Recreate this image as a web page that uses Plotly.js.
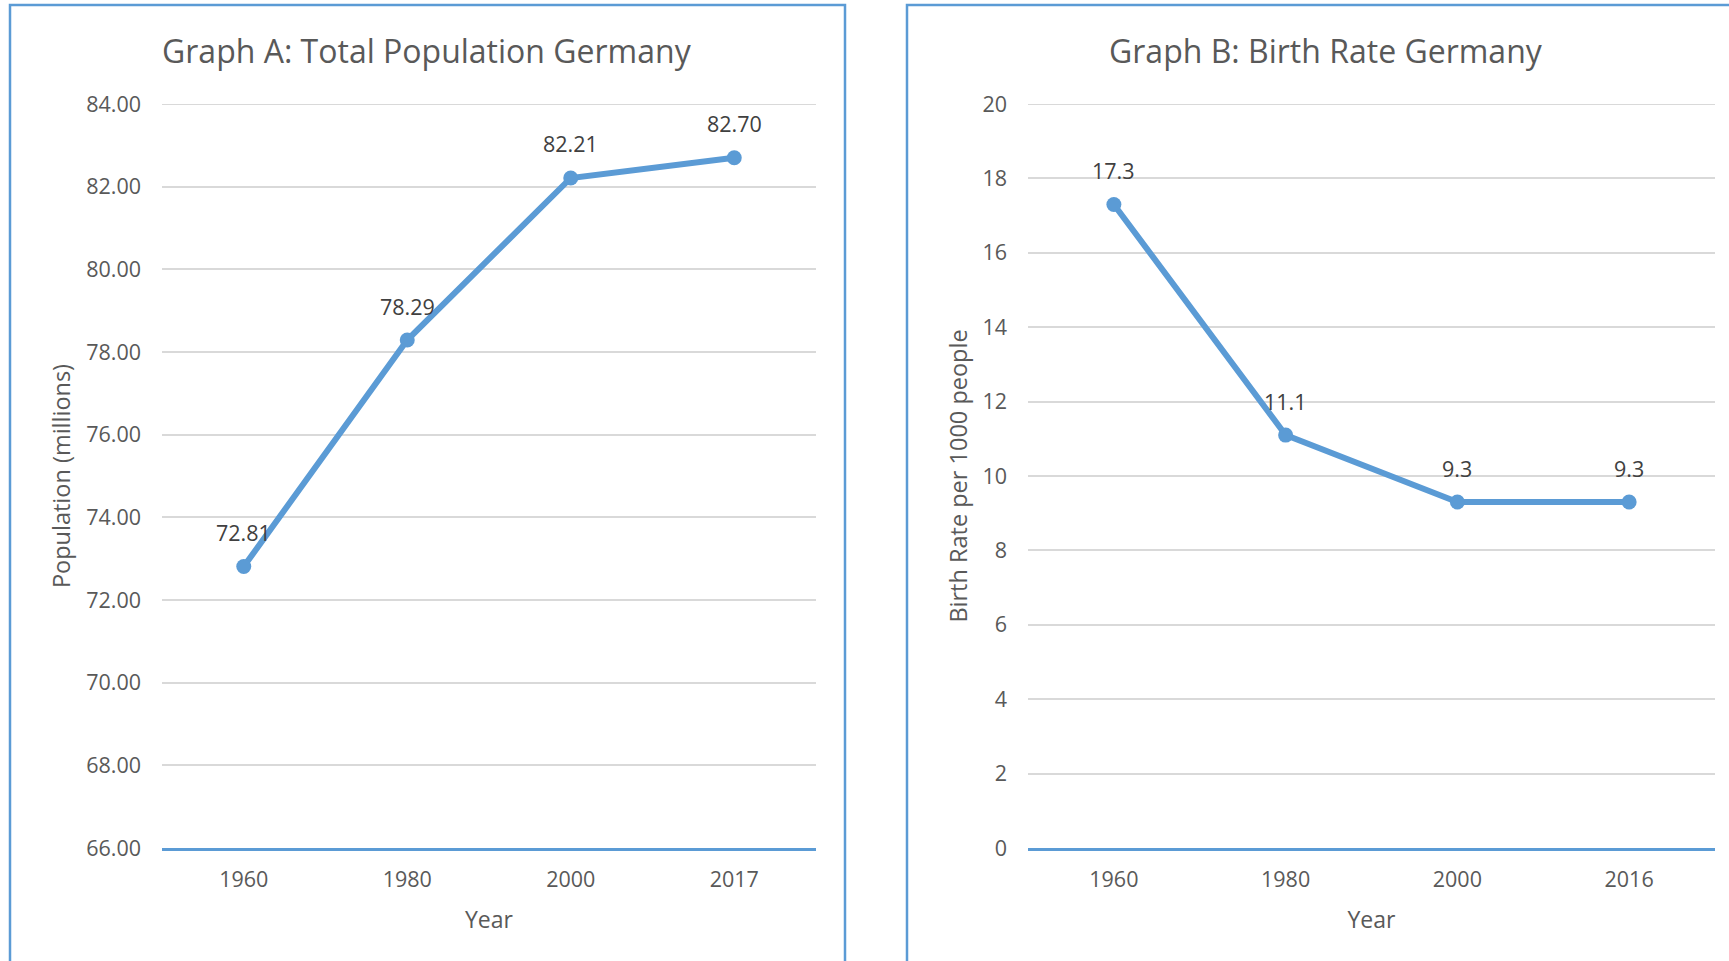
<!DOCTYPE html>
<html>
<head>
<meta charset="utf-8">
<script src="https://cdn.plot.ly/plotly-3.0.1.min.js"></script>
<style>html,body{margin:0;padding:0;background:#fff;}#chart{width:1729px;height:961px;}</style>
</head>
<body>
<div id="chart"></div>
<script>
// Graph A data
var yearsA = ["1960", "1980", "2000", "2017"];
var populationA = [72.81, 78.29, 82.21, 82.70];
var labelsA = ["72.81", "78.29", "82.21", "82.70"];
var yTicksA = [66, 68, 70, 72, 74, 76, 78, 80, 82, 84];
var yTickTextA = ["66.00", "68.00", "70.00", "72.00", "74.00", "76.00", "78.00", "80.00", "82.00", "84.00"];

// Graph B data
var yearsB = ["1960", "1980", "2000", "2016"];
var birthRateB = [17.3, 11.1, 9.3, 9.3];
var labelsB = ["17.3", "11.1", "9.3", "9.3"];
var yTicksB = [0, 2, 4, 6, 8, 10, 12, 14, 16, 18, 20];

var titleA = "Graph A: Total Population Germany";
var titleB = "Graph B: Birth Rate Germany";
var yTitleA = "Population (millions)";
var yTitleB = "Birth Rate per 1000 people";
var xTitle = "Year";

var FONT = "Open Sans, Noto Sans, sans-serif";
var BLUE = "#5B9BD5";
var TXT = "#595959";
var GRID = "#D9D9D9";

var W = 1729, H = 961;
function px(x) { return x / W; }
function py(y) { return 1 - y / H; }

var traceA = {
  x: yearsA, y: populationA, type: "scatter", mode: "lines+markers",
  xaxis: "x", yaxis: "y",
  line: {color: BLUE, width: 6},
  marker: {color: BLUE, size: 15},
  hoverinfo: "skip", showlegend: false
};
var traceB = {
  x: yearsB, y: birthRateB, type: "scatter", mode: "lines+markers",
  xaxis: "x2", yaxis: "y2",
  line: {color: BLUE, width: 6},
  marker: {color: BLUE, size: 15},
  hoverinfo: "skip", showlegend: false
};

var annotations = [];
yearsA.forEach(function (yr, i) {
  annotations.push({x: i, y: populationA[i], xref: "x", yref: "y", text: labelsA[i],
    showarrow: false, yshift: 34, font: {family: FONT, size: 21.5, color: "#404040"}});
});
yearsB.forEach(function (yr, i) {
  annotations.push({x: i, y: birthRateB[i], xref: "x2", yref: "y2", text: labelsB[i],
    showarrow: false, yshift: 34, font: {family: FONT, size: 21.5, color: "#404040"}});
});
// Titles
annotations.push({xref: "paper", yref: "paper", x: px(427), y: py(51), text: titleA, showarrow: false,
  xanchor: "center", yanchor: "middle", font: {family: FONT, size: 32, color: TXT}});
annotations.push({xref: "paper", yref: "paper", x: px(1326), y: py(51), text: titleB, showarrow: false,
  xanchor: "center", yanchor: "middle", font: {family: FONT, size: 32, color: TXT}});

function yAxis(ticks, text, range, title) {
  return {
    domain: [py(848), py(104)],
    range: range,
    tickmode: "array", tickvals: ticks, ticktext: text,
    showgrid: true, gridcolor: GRID, gridwidth: 2,
    zeroline: false, showline: false, ticks: "",
    ticklabelstandoff: 20,
    tickfont: {family: FONT, size: 21.5, color: TXT},
    title: {text: title, font: {family: FONT, size: 23.5, color: TXT}, standoff: 8},
    fixedrange: true
  };
}
function xAxis(domain, anchor) {
  return {
    domain: domain, anchor: anchor, type: "category", range: [-0.5, 3.5],
    showgrid: false, zeroline: false,
    showline: true, linecolor: BLUE, linewidth: 2.5,
    ticks: "", ticklabelstandoff: 11,
    tickfont: {family: FONT, size: 21.5, color: TXT},
    title: {text: xTitle, font: {family: FONT, size: 23, color: TXT}, standoff: 20},
    fixedrange: true
  };
}

var yA = yAxis(yTicksA, yTickTextA, [yTicksA[0], yTicksA[yTicksA.length - 1]], yTitleA);
yA.anchor = "x";
var yB = yAxis(yTicksB, yTicksB.map(String), [yTicksB[0], yTicksB[yTicksB.length - 1]], yTitleB);
yB.anchor = "x2";

var layout = {
  width: W, height: H,
  margin: {l: 0, r: 0, t: 0, b: 0},
  paper_bgcolor: "#ffffff", plot_bgcolor: "#ffffff",
  showlegend: false,
  xaxis: xAxis([px(162), px(816)], "y"),
  yaxis: yA,
  xaxis2: xAxis([px(1028), px(1715)], "y2"),
  yaxis2: yB,
  annotations: annotations,
  shapes: [
    {type: "rect", xref: "paper", yref: "paper", x0: px(10), x1: px(845), y0: -0.05, y1: py(5),
      line: {color: BLUE, width: 2.5}, fillcolor: "rgba(0,0,0,0)", layer: "below"},
    {type: "rect", xref: "paper", yref: "paper", x0: px(907), x1: 1.05, y0: -0.05, y1: py(5),
      line: {color: BLUE, width: 2.5}, fillcolor: "rgba(0,0,0,0)", layer: "below"},
    // top gridlines (Plotly drops gridlines lying on the range edge)
    {type: "line", xref: "x domain", yref: "y", x0: 0, x1: 1,
      y0: yTicksA[yTicksA.length - 1], y1: yTicksA[yTicksA.length - 1],
      line: {color: GRID, width: 2}, layer: "below"},
    {type: "line", xref: "x2 domain", yref: "y2", x0: 0, x1: 1,
      y0: yTicksB[yTicksB.length - 1], y1: yTicksB[yTicksB.length - 1],
      line: {color: GRID, width: 2}, layer: "below"}
  ]
};

Plotly.newPlot("chart", [traceA, traceB], layout, {displayModeBar: false, staticPlot: true});
</script>
</body>
</html>
